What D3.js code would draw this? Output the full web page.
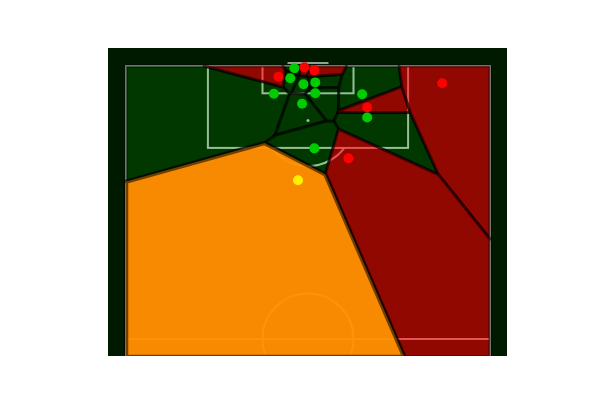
<!DOCTYPE html>
<html><head><meta charset="utf-8">
<script src="https://cdn.jsdelivr.net/npm/d3@7"></script>
<style>html,body{margin:0;padding:0;background:#fff;}svg{display:block;}</style>
</head><body>
<svg id="c" width="600" height="400"></svg>
<script>
// Player positions (StatsBomb pitch units: x = length 0-120, y = width 0-80)
const greenX = [119.5, 117.3, 116.0, 116.4, 113.9, 114.0, 111.7, 113.8, 108.7, 101.9];
const greenY = [37.0, 36.1, 39.0, 41.6, 32.5, 41.6, 38.7, 51.9, 53.0, 41.4];
const redX = [119.7, 119.1, 117.65, 110.9, 116.2, 99.7];
const redY = [39.2, 41.4, 33.5, 53.0, 69.5, 48.9];
const shooterX = [94.9];
const shooterY = [37.8];

const svg = d3.select("#c");
const xs = d3.scaleLinear().domain([0, 80]).range([126, 490]);   // pitch width -> screen x
const ys = d3.scaleLinear().domain([120, 60]).range([66, 339]);  // pitch length -> screen y
const k = (xs(80) - xs(0)) / 80;

const view = {x0: 108, y0: 48, x1: 507, y1: 356};
svg.append("defs").append("clipPath").attr("id", "clip")
  .append("rect").attr("x", view.x0).attr("y", view.y0)
  .attr("width", view.x1 - view.x0).attr("height", view.y1 - view.y0);

const g = svg.append("g").attr("clip-path", "url(#clip)");
g.append("rect").attr("x", view.x0).attr("y", view.y0)
  .attr("width", view.x1 - view.x0).attr("height", view.y1 - view.y0)
  .attr("fill", "#001a00");

// Pitch lines
const lines = g.append("g").attr("fill", "none").attr("stroke", "#ffffff").attr("stroke-width", 2);
lines.append("rect").attr("x", xs(0)).attr("y", ys(120)).attr("width", xs(80) - xs(0)).attr("height", ys(0) - ys(120));
lines.append("rect").attr("x", xs(18)).attr("y", ys(120)).attr("width", xs(62) - xs(18)).attr("height", ys(102) - ys(120));
lines.append("rect").attr("x", xs(30)).attr("y", ys(120)).attr("width", xs(50) - xs(30)).attr("height", ys(114) - ys(120));
lines.append("line").attr("x1", xs(0)).attr("x2", xs(80)).attr("y1", ys(60)).attr("y2", ys(60));
lines.append("circle").attr("cx", xs(40)).attr("cy", ys(60)).attr("r", 10 * k);
// penalty arc outside box
const dy = (ys(102) - ys(108));
const ang = Math.acos(dy / (10 * k));
const arc = d3.arc().innerRadius(10 * k).outerRadius(10 * k).startAngle(Math.PI - ang).endAngle(Math.PI + ang);
lines.append("path").attr("d", arc()).attr("transform", `translate(${xs(40)},${ys(108)})`);
g.append("circle").attr("cx", xs(40)).attr("cy", ys(108)).attr("r", 1.5).attr("fill", "#ffffff");
g.append("circle").attr("cx", xs(40)).attr("cy", ys(60)).attr("r", 1.5).attr("fill", "#ffffff");
// goal
g.append("line").attr("stroke", "#b8c4b8").attr("stroke-opacity", 0.8).attr("stroke-width", 2)
  .attr("x1", xs(35.5)).attr("x2", xs(44.5)).attr("y1", ys(120) - 3).attr("y2", ys(120) - 3);

// Voronoi
const pts = [];
greenX.forEach((x, i) => pts.push({x, y: greenY[i], team: "g"}));
redX.forEach((x, i) => pts.push({x, y: redY[i], team: "r"}));
shooterX.forEach((x, i) => pts.push({x, y: shooterY[i], team: "s"}));

const delaunay = d3.Delaunay.from(pts, d => xs(d.y), d => ys(d.x));
const vor = delaunay.voronoi([xs(0), ys(120), xs(80), view.y1 + 1]);
const style = {
  g: {fill: "#006300", op: 0.41, sw: 3, so: 0.55},
  r: {fill: "#d70000", op: 0.67, sw: 3, so: 0.55},
  s: {fill: "#ff8e00", op: 0.97, sw: 4.5, so: 0.55}
};
const cells = g.append("g");
pts.forEach((p, i) => {
  const s = style[p.team];
  cells.append("path").attr("d", vor.renderCell(i))
    .attr("fill", s.fill).attr("fill-opacity", s.op)
    .attr("stroke", "#000").attr("stroke-opacity", s.so).attr("stroke-width", s.sw)
    .attr("stroke-linejoin", "round");
});

const dotCol = {g: "#00cc00", r: "#ff0000", s: "#fff000"};
g.append("g").selectAll("circle").data(pts).join("circle")
  .attr("cx", d => xs(d.y)).attr("cy", d => ys(d.x)).attr("r", 5)
  .attr("fill", d => dotCol[d.team]);
</script>
</body></html>
